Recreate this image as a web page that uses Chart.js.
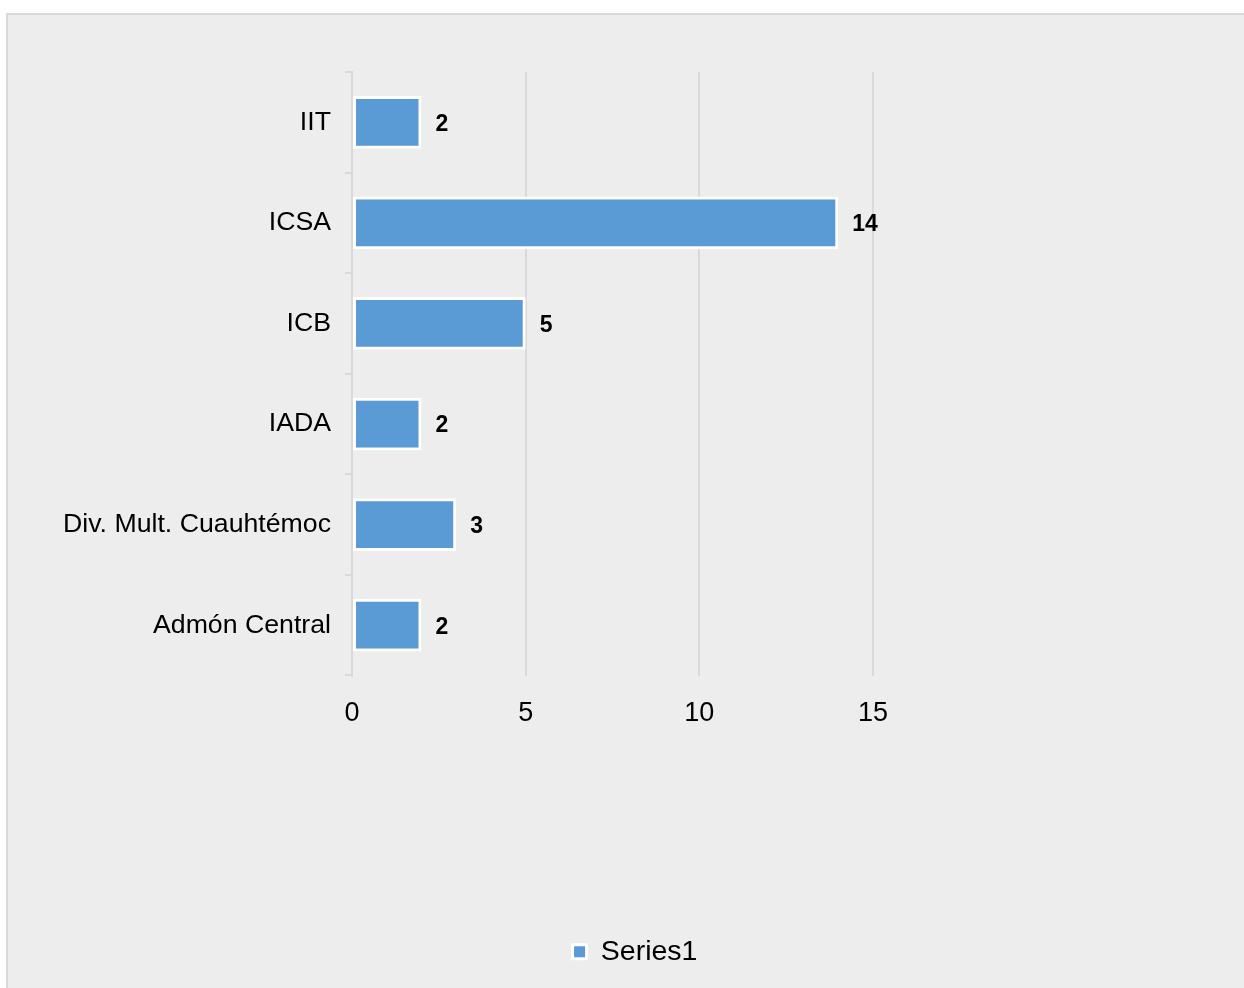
<!DOCTYPE html>
<html>
<head>
<meta charset="utf-8">
<script src="https://cdn.jsdelivr.net/npm/chart.js@4/dist/chart.umd.min.js"></script>
<style>
  body { margin: 0; background: #ffffff; }
  #box {
    position: absolute;
    left: 6px;
    top: 13px;
    width: 1236px;
    height: 973px;
    background: #ededed;
    border-left: 2px solid #d9d9d9;
    border-top: 2px solid #d9d9d9;
  }
</style>
</head>
<body>
<div id="box"><canvas id="chart"></canvas></div>
<script>
// Chart data
const categories = ['IIT', 'ICSA', 'ICB', 'IADA', 'Div. Mult. Cuauhtémoc', 'Admón Central'];
const series1 = [2, 14, 5, 2, 3, 2];
const xTicks = [0, 5, 10, 15];

const FONT = "'Liberation Sans', Arial, sans-serif";

/**
 * Draw the bold value next to the end of each bar
 */
const valueLabels = {
  id: 'valueLabels',
  afterDatasetsDraw(chart) {
    const ctx = chart.ctx;
    const meta = chart.getDatasetMeta(0);
    ctx.save();
    ctx.font = 'bold 23px ' + FONT;
    ctx.fillStyle = '#000000';
    ctx.textAlign = 'left';
    ctx.textBaseline = 'middle';
    meta.data.forEach((bar, i) => {
      ctx.fillText(String(series1[i]), bar.x + 14, bar.y + 2);
    });
    ctx.restore();
  },
};

const ctx = document.getElementById('chart').getContext('2d');
new Chart(ctx, {
  type: 'bar',
  data: {
    labels: categories,
    datasets: [
      {
        label: 'Series1',
        data: series1,
        backgroundColor: '#5b9bd5',
        borderColor: '#ffffff',
        borderWidth: 3,
        borderSkipped: false,
        barPercentage: 0.525,
        categoryPercentage: 1,
      },
    ],
  },
  options: {
    indexAxis: 'y',
    responsive: true,
    maintainAspectRatio: false,
    animation: false,
    layout: {
      padding: { top: 57, right: 0, bottom: 12, left: 18 },
    },
    scales: {
      x: {
        min: 0,
        max: 15,
        afterBuildTicks: axis => {
          axis.ticks = xTicks.map(v => ({ value: v }));
        },
        afterFit: axis => {
          axis.height = 252;
        },
        grid: {
          color: '#d9d9d9',
          lineWidth: 2,
          drawTicks: false,
        },
        border: { display: false },
        ticks: {
          color: '#000000',
          padding: 22,
          font: { family: FONT, size: 27 },
        },
      },
      y: {
        afterFit: axis => {
          axis.width = 326;
        },
        grid: {
          offset: true,
          drawOnChartArea: false,
          drawTicks: true,
          tickLength: 7,
          color: '#d9d9d9',
          lineWidth: 2,
        },
        border: { display: true, color: '#d9d9d9', width: 2 },
        ticks: {
          color: '#000000',
          padding: 14,
          font: { family: FONT, size: 26.7 },
        },
      },
      // empty space on the right of the plot area
      spacer: {
        type: 'category',
        position: 'right',
        afterFit: axis => {
          axis.width = 371;
        },
        grid: { display: false },
        border: { display: false },
        ticks: { display: false },
      },
    },
    plugins: {
      legend: {
        position: 'bottom',
        labels: {
          color: '#000000',
          boxWidth: 14,
          boxHeight: 14,
          padding: 10,
          font: { family: FONT, size: 28.5 },
        },
      },
      tooltip: { enabled: false },
    },
  },
  plugins: [valueLabels],
});
</script>
</body>
</html>
